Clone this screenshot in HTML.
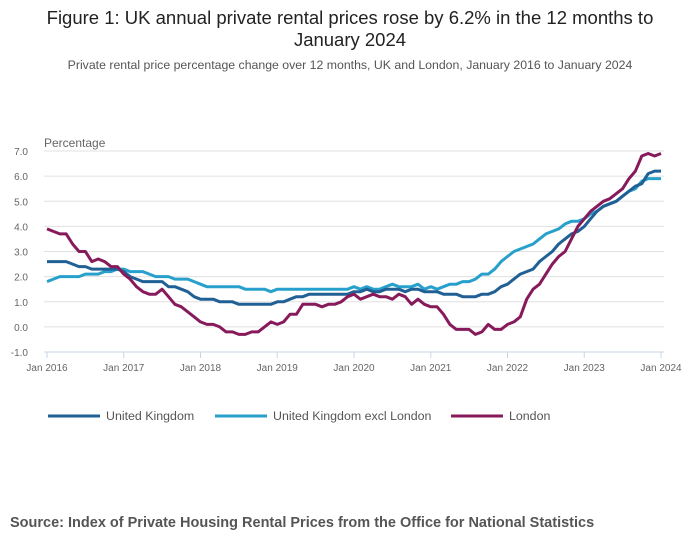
<!DOCTYPE html>
<html><head><meta charset="utf-8"><style>
body{margin:0;background:#fff;font-family:"Liberation Sans",sans-serif;}
svg text{font-family:"Liberation Sans",sans-serif;}
</style></head><body>
<svg width="700" height="549" xmlns="http://www.w3.org/2000/svg">
<text x="350" y="24" text-anchor="middle" font-size="18.5" fill="#222">Figure 1: UK annual private rental prices rose by 6.2% in the 12 months to</text>
<text x="350" y="46" text-anchor="middle" font-size="18.5" fill="#222">January 2024</text>
<text x="350" y="69" text-anchor="middle" font-size="12.3" fill="#555">Private rental price percentage change over 12 months, UK and London, January 2016 to January 2024</text>
<text x="44" y="147" font-size="12" fill="#666">Percentage</text>
<g id="grid"></g><g id="xaxis"></g><g id="series"></g>
<g>
<line x1="48" y1="416" x2="100" y2="416" stroke="#206095" stroke-width="3"/>
<text x="106" y="420" font-size="12.4" fill="#555">United Kingdom</text>
<line x1="215" y1="416" x2="267" y2="416" stroke="#27a0cc" stroke-width="3"/>
<text x="273" y="420" font-size="12.4" fill="#555">United Kingdom excl London</text>
<line x1="451" y1="416" x2="503" y2="416" stroke="#871a5b" stroke-width="3"/>
<text x="509" y="420" font-size="12.4" fill="#555">London</text>
</g>
<text x="10" y="527" font-size="14.5" font-weight="bold" fill="#555">Source: Index of Private Housing Rental Prices from the Office for National Statistics</text>
</svg>
<script>
const yTicks=[-1,0,1,2,3,4,5,6,7];
const xLabels=["Jan 2016","Jan 2017","Jan 2018","Jan 2019","Jan 2020","Jan 2021","Jan 2022","Jan 2023","Jan 2024"];
const ukValues=[2.6,2.6,2.6,2.6,2.5,2.4,2.4,2.3,2.3,2.3,2.3,2.3,
2.2,2.0,1.9,1.8,1.8,1.8,1.8,1.6,1.6,1.5,1.4,1.2,
1.1,1.1,1.1,1.0,1.0,1.0,0.9,0.9,0.9,0.9,0.9,0.9,
1.0,1.0,1.1,1.2,1.2,1.3,1.3,1.3,1.3,1.3,1.3,1.3,
1.4,1.4,1.5,1.4,1.4,1.5,1.5,1.5,1.4,1.5,1.5,1.4,
1.4,1.4,1.3,1.3,1.3,1.2,1.2,1.2,1.3,1.3,1.4,1.6,
1.7,1.9,2.1,2.2,2.3,2.6,2.8,3.0,3.3,3.5,3.7,3.8,
4.0,4.3,4.6,4.8,4.9,5.0,5.2,5.4,5.6,5.7,6.1,6.2,6.2];
const exclLondonValues=[1.8,1.9,2.0,2.0,2.0,2.0,2.1,2.1,2.1,2.2,2.2,2.3,
2.3,2.2,2.2,2.2,2.1,2.0,2.0,2.0,1.9,1.9,1.9,1.8,
1.7,1.6,1.6,1.6,1.6,1.6,1.6,1.5,1.5,1.5,1.5,1.4,
1.5,1.5,1.5,1.5,1.5,1.5,1.5,1.5,1.5,1.5,1.5,1.5,
1.6,1.5,1.6,1.5,1.5,1.6,1.7,1.6,1.6,1.6,1.7,1.5,
1.6,1.5,1.6,1.7,1.7,1.8,1.8,1.9,2.1,2.1,2.3,2.6,
2.8,3.0,3.1,3.2,3.3,3.5,3.7,3.8,3.9,4.1,4.2,4.2,
4.3,4.5,4.6,4.8,4.9,5.0,5.2,5.4,5.5,5.8,5.9,5.9,5.9];
const londonValues=[3.9,3.8,3.7,3.7,3.3,3.0,3.0,2.6,2.7,2.6,2.4,2.4,
2.1,1.9,1.6,1.4,1.3,1.3,1.5,1.2,0.9,0.8,0.6,0.4,
0.2,0.1,0.1,0.0,-0.2,-0.2,-0.3,-0.3,-0.2,-0.2,0.0,0.2,
0.1,0.2,0.5,0.5,0.9,0.9,0.9,0.8,0.9,0.9,1.0,1.2,
1.3,1.1,1.2,1.3,1.2,1.2,1.1,1.3,1.2,0.9,1.1,0.9,
0.8,0.8,0.5,0.1,-0.1,-0.1,-0.1,-0.3,-0.2,0.1,-0.1,-0.1,
0.1,0.2,0.4,1.1,1.5,1.7,2.1,2.5,2.8,3.0,3.5,4.0,
4.3,4.6,4.8,5.0,5.1,5.3,5.5,5.9,6.2,6.8,6.9,6.8,6.9];
const NS="http://www.w3.org/2000/svg";
const x0=47,x1=661,yTop=151,yBot=352;
function xs(i){return x0+(x1-x0)*i/96;}
function ys(v){return yBot-(v+1)*(yBot-yTop)/8;}
function mk(t,a,p){const e=document.createElementNS(NS,t);for(const k in a)e.setAttribute(k,a[k]);p.appendChild(e);return e;}
const grid=document.getElementById('grid');
yTicks.forEach(v=>{
  if(v>-1){const l=mk('line',{x1:44,x2:664,y1:ys(v),y2:ys(v),stroke:'#e0e0e0','stroke-width':1},grid);
  
  }
  const t=mk('text',{x:28,y:ys(v)+4,'text-anchor':'end','font-size':10,fill:'#666'},grid);
  t.textContent=v.toFixed(1);
  
  
});
const xa=document.getElementById('xaxis');
const ax=mk('line',{x1:44,x2:664,y1:yBot,y2:yBot,stroke:'#c8d4e6','stroke-width':1},xa);


xLabels.forEach((s,i)=>{
  const x=xs(i*12);
  mk('line',{x1:x,x2:x,y1:yBot,y2:yBot+6,stroke:'#c8d4e6'},xa);
  const t=mk('text',{x:x,y:yBot+19,'text-anchor':'middle','font-size':10,fill:'#666'},xa);
  t.textContent=s;
  
  
});
const sg=document.getElementById('series');
[[exclLondonValues,'#27a0cc','line-uk-excl-london'],[ukValues,'#206095','line-uk'],[londonValues,'#871a5b','line-london']].forEach(([vals,c,n])=>{
  const p=mk('path',{d:vals.map((v,i)=>(i?'L':'M')+xs(i).toFixed(1)+' '+ys(v).toFixed(1)).join(''),fill:'none',stroke:c,'stroke-width':3,'stroke-linejoin':'round'},sg);
  
  
});
</script>
</body></html>
